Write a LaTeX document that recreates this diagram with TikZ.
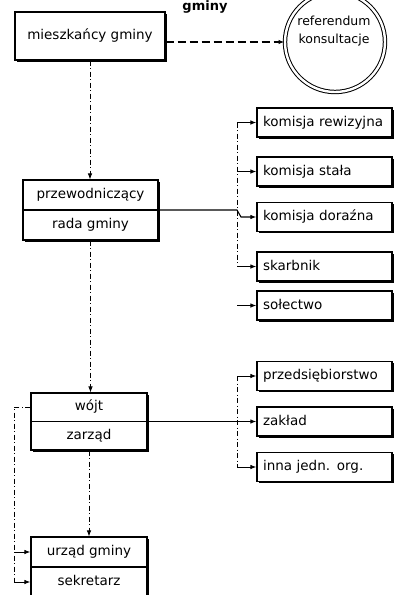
\documentclass[tikz,border=0pt]{standalone}
\usepackage{fontspec}
\setmainfont{DejaVu Sans}
\usetikzlibrary{arrows.meta,shadows}
\begin{document}
\begin{tikzpicture}[x=1pt,y=-1pt,
  box/.style={draw=black,line width=1.2pt,fill=white,inner sep=0pt,
     drop shadow={shadow xshift=1.6pt,shadow yshift=-1.6pt,fill=black,opacity=1,shadow scale=1}},
  lbl/.style={font=\fontsize{13.5}{16}\selectfont,inner sep=0pt,text height=10pt,text depth=3pt},
  rbox/.style={box,lbl,minimum width=135pt,minimum height=29pt,text width=123pt,align=left},
  conn/.style={line width=0.7pt,dash pattern=on 5pt off 2.5pt on 1pt off 2.5pt},
  solidc/.style={line width=1.1pt},
  stub/.style={line width=0.9pt},
  tip/.style={-{Latex[length=6pt,width=4.5pt]}},
]
\useasboundingbox (0,0) rectangle (398,595);

% title fragment
\node[font=\bfseries\fontsize{13}{14}\selectfont,inner sep=0pt,anchor=north] (title) at (205,0.6) {gminy};

% top
\node[box,lbl,minimum width=150pt,minimum height=48pt] (M) at (90,36) {mieszkańcy gminy};
\node[draw=black,double,double distance=2.4pt,line width=1pt,circle,minimum size=100pt,inner sep=0pt] (C) at (335,42) {};
\node[lbl,align=center,font=\fontsize{12.5}{18}\selectfont] (Ct) at (334,40) {referendum\\konsultacje};
\draw[line width=1.6pt,dash pattern=on 8pt off 4pt,tip] ([yshift=-6pt]M.east) -- (C.west);

% rada gminy
\node[box,minimum width=135pt,minimum height=60pt] (P) at (90.5,210) {};
\draw[line width=1.3pt] (P.west) -- (P.east);
\node[lbl] (Pa) at (90.5,195) {przewodniczący};
\node[lbl] (Pb) at (90.5,225) {rada gminy};

% right group 1
\node[rbox] (K1) at (324.5,122.5) {komisja rewizyjna};
\node[rbox] (K2) at (324.5,171.5) {komisja stała};
\node[rbox] (K3) at (324.5,217) {komisja doraźna};
\node[rbox] (K4) at (324.5,266.5) {skarbnik};
\node[rbox] (K5) at (324.5,305.5) {sołectwo};
\coordinate (bus1) at (237,0);
\draw[conn] (bus1 |- K1.west) -- (bus1 |- K4.west);
\foreach \k in {K1,K2,K4,K5} \draw[stub,tip] (bus1 |- \k.west) -- (\k.west);
\draw[solidc,tip] (P.east) -- (bus1 |- P.east) -- ([xshift=4pt]bus1 |- K3.west) -- (K3.west);

% wojt
\node[box,minimum width=116pt,minimum height=57pt] (W) at (89,421.5) {};
\draw[line width=1.3pt] (W.west) -- (W.east);
\node[lbl] (Wa) at (89,407) {wójt};
\node[lbl] (Wb) at (89,436) {zarząd};

% right group 2
\node[rbox] (Q1) at (324.5,376) {przedsiębiorstwo};
\node[rbox] (Q2) at (324.5,421.5) {zakład};
\node[rbox] (Q3) at (324.5,467) {inna jedn. org.};
\coordinate (bus2) at (237,0);
\draw[conn] (bus2 |- Q1.west) -- (bus2 |- Q3.west);
\foreach \k in {Q1,Q3} \draw[stub,tip] (bus2 |- \k.west) -- (\k.west);
\draw[solidc,tip] (W.east) -- (Q2.west);

% urzad gminy
\node[box,minimum width=116pt,minimum height=60pt] (U) at (89,567) {};
\draw[line width=1.3pt] (U.west) -- (U.east);
\node[lbl] (Ua) at (89,552) {urząd gminy};
\node[lbl] (Ub) at (89,582) {sekretarz};

% vertical connectors
\draw[conn,tip] (M.south) -- (M.south |- P.north);
\draw[conn,tip] (P.south) -- (P.south |- W.north);
\draw[conn,tip] (W.south) -- (W.south |- U.north);

% left loop
\coordinate (L) at (14,0);
\draw[conn] (Wa -| W.west) -- (Wa -| L) -- (Ub -| L);
\draw[stub,tip] (Ub -| L) -- (Ub -| U.west);
\draw[stub,tip] (Ua -| L) -- (Ua -| U.west);
\end{tikzpicture}
\end{document}
